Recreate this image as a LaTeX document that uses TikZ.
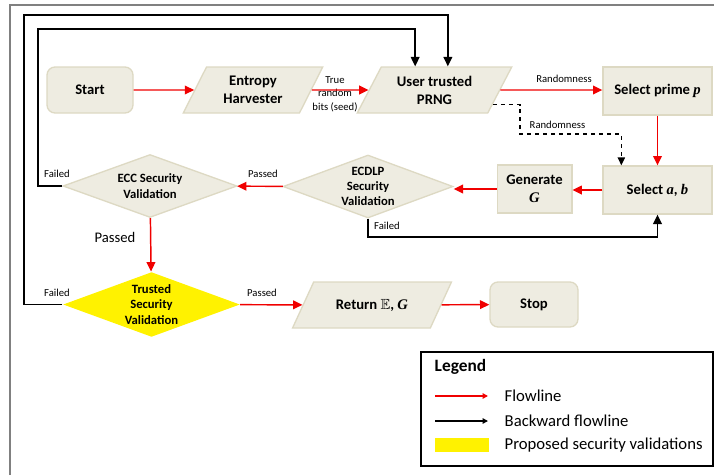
\documentclass[tikz,border=0pt]{standalone}
\usepackage{fontspec}
\setmainfont{Carlito}
\newfontfamily\mathserif{Liberation Serif}
\usepackage{amssymb}
\usetikzlibrary{arrows.meta, shapes.geometric}

\definecolor{boxfill}{HTML}{EEECE1}
\definecolor{boxline}{HTML}{DDD9C3}
\definecolor{flowred}{HTML}{F00000}
\newcommand{\vbl}[1]{{\mathserif\bfseries\itshape #1}}

\begin{document}
\begin{tikzpicture}[x=0.75pt, y=-0.75pt,
		every node/.style={align=center, font=\bfseries\fontsize{11}{13.5}\selectfont},
		terminal/.style={rectangle, rounded corners=6pt, draw=boxline, fill=boxfill, line width=1pt},
		process/.style={rectangle, draw=boxline, fill=boxfill, line width=1pt},
		io/.style={trapezium, trapezium stretches=true, draw=boxline, fill=boxfill, line width=1pt},
		decision/.style={diamond, aspect=2.75, inner sep=-3pt, draw=boxline, fill=boxfill, line width=1pt},
		lbl/.style={font=\fontsize{8}{10}\selectfont},
		flow/.style={draw=flowred, line width=1.1pt, -{Triangle[length=7pt,width=6.5pt]}},
		back/.style={draw=black, line width=1.1pt, -{Triangle[length=7pt,width=6.5pt]}}]
				\useasboundingbox (0,0) rectangle (714,475);
				% Frame
				\draw[gray, line width=1.5pt] (9.5,475) -- (9.5,4.5) -- (714,4.5);
				
				% Nodes
				\node (start) [terminal, minimum width=64.5pt, minimum height=34.5pt] at (90,90) {Start};
				\node (harv) [io, trapezium left angle=65, trapezium right angle=115, minimum width=105pt, minimum height=34.5pt] at (253,90) {Entropy\\Harvester};
				\node (prng) [io, trapezium left angle=63, trapezium right angle=117, minimum width=116pt, minimum height=34.5pt] at (434.5,90) {User trusted\\PRNG};
				\node (prime) [process, minimum width=81.75pt, minimum height=36pt] at (657.5,91) {Select prime \vbl{p}};
				\node (ab) [process, minimum width=81.75pt, minimum height=36pt] at (657.5,190) {Select \vbl{a}, \vbl{b}};
				\node (gen) [process, minimum width=56pt, minimum height=36pt] at (534.5,189) {Generate\\\vbl{G}};
				\node (ecdlp) [decision, minimum width=127.5pt, minimum height=47.25pt, font=\bfseries\fontsize{9.5}{11.5}\selectfont] at (368,186.5) {ECDLP\\Security\\Validation};
				\node (ecc) [decision, minimum width=130.5pt, minimum height=47.25pt, font=\bfseries\fontsize{9.5}{12}\selectfont] at (150,186) {ECC Security\\Validation};
				\node (trusted) [decision, draw=none, fill=yellow, minimum width=132.75pt, minimum height=48.75pt, font=\bfseries\fontsize{9.5}{11.5}\selectfont] at (151.5,304.5) {Trusted\\Security\\Validation};
				\node (ret) [io, trapezium left angle=55, trapezium right angle=125, minimum width=120pt, minimum height=34.5pt] at (372,305) {Return $\mathbb{E}$, \vbl{G}};
				\node (stop) [terminal, minimum width=66pt, minimum height=33.75pt] at (534,304.5) {Stop};
				
				% Labels
				\node (seed) [lbl] at (335,94) {True\\random\\bits (seed)};
				\node (rand1) [lbl] at (564,79) {Randomness};
				\node (rand2) [lbl, anchor=west] at (525,125) {Randomness};
				\node (pass1) [lbl] at (263,174) {Passed};
				\node (pass2) [font=\fontsize{11}{13}\selectfont] at (115,237) {Passed};
				\node (pass3) [lbl] at (262,293) {Passed};
				\node (fail1) [lbl] at (57,174) {Failed};
				\node (fail2) [lbl] at (57,293) {Failed};
				\node (fail3) [lbl] at (387,226) {Failed};
				
				% Arrows
				\draw[flow] (start) -- (harv);
				\draw[flow] (harv) -- (prng);
				\draw[flow] (prng) -- (prime.west |- prng);
				\draw[flow] (prime) -- (ab);
				\draw[flow] (ab) -- (gen.east |- ab);
				\draw[flow] (gen) -- (ecdlp.east |- gen);
				\draw[flow] (ecdlp) -- (ecc);
				\draw[flow] (ecc) -- (trusted);
				\draw[flow] (trusted) -- (ret);
				\draw[flow] (ret) -- (stop);
				\draw[black, line width=1pt, dashed, -{Triangle[length=6pt,width=5.5pt]}] (prng.-14) -| (520,134) -| ([xshift=14.25pt]ab.north west);
				
				% Backward arrows
				\coordinate (loop1) at (38,29);
				\coordinate (loop2) at (24,15);
				\coordinate (loop3) at (657.5,237);
				\draw[back] (ecc.west) -| (loop1) -| ([xshift=-14.5pt]prng.north);
				\draw[back] (trusted.west) -| (loop2) -| ([xshift=10pt]prng.north);
				\draw[back] (ecdlp.south) |- (loop3) -- (ab.south);
				
				% Legend
				\node (legend) [rectangle, draw, line width=1pt, minimum width=219pt, minimum height=85.5pt] at (567,409) {};
				\node (legtitle) [anchor=west, font=\bfseries\fontsize{13}{15}\selectfont] at (430,367) {Legend};
				\coordinate (fla) at (435,396);
				\coordinate (flb) at (488,396);
				\coordinate (bka) at (435,421);
				\coordinate (bkb) at (488,421);
				\draw[flowred, line width=1pt, -{Triangle[length=4pt,width=4pt]}] (fla) -- (flb);
				\draw[black, line width=1pt, -{Triangle[length=4pt,width=4pt]}] (bka) -- (bkb);
				\node (legyel) [rectangle, fill=yellow, minimum width=40.5pt, minimum height=10.5pt, inner sep=0pt] at (462,445) {};
				\node (legflow) [anchor=west, font=\fontsize{12.5}{15}\selectfont] at (500,396) {Flowline};
				\node (legback) [anchor=west, font=\fontsize{12.5}{15}\selectfont] at (500,421) {Backward flowline};
				\node (legprop) [anchor=west, font=\fontsize{12.5}{15}\selectfont] at (500,445) {Proposed security validations};
			\end{tikzpicture}
\end{document}
